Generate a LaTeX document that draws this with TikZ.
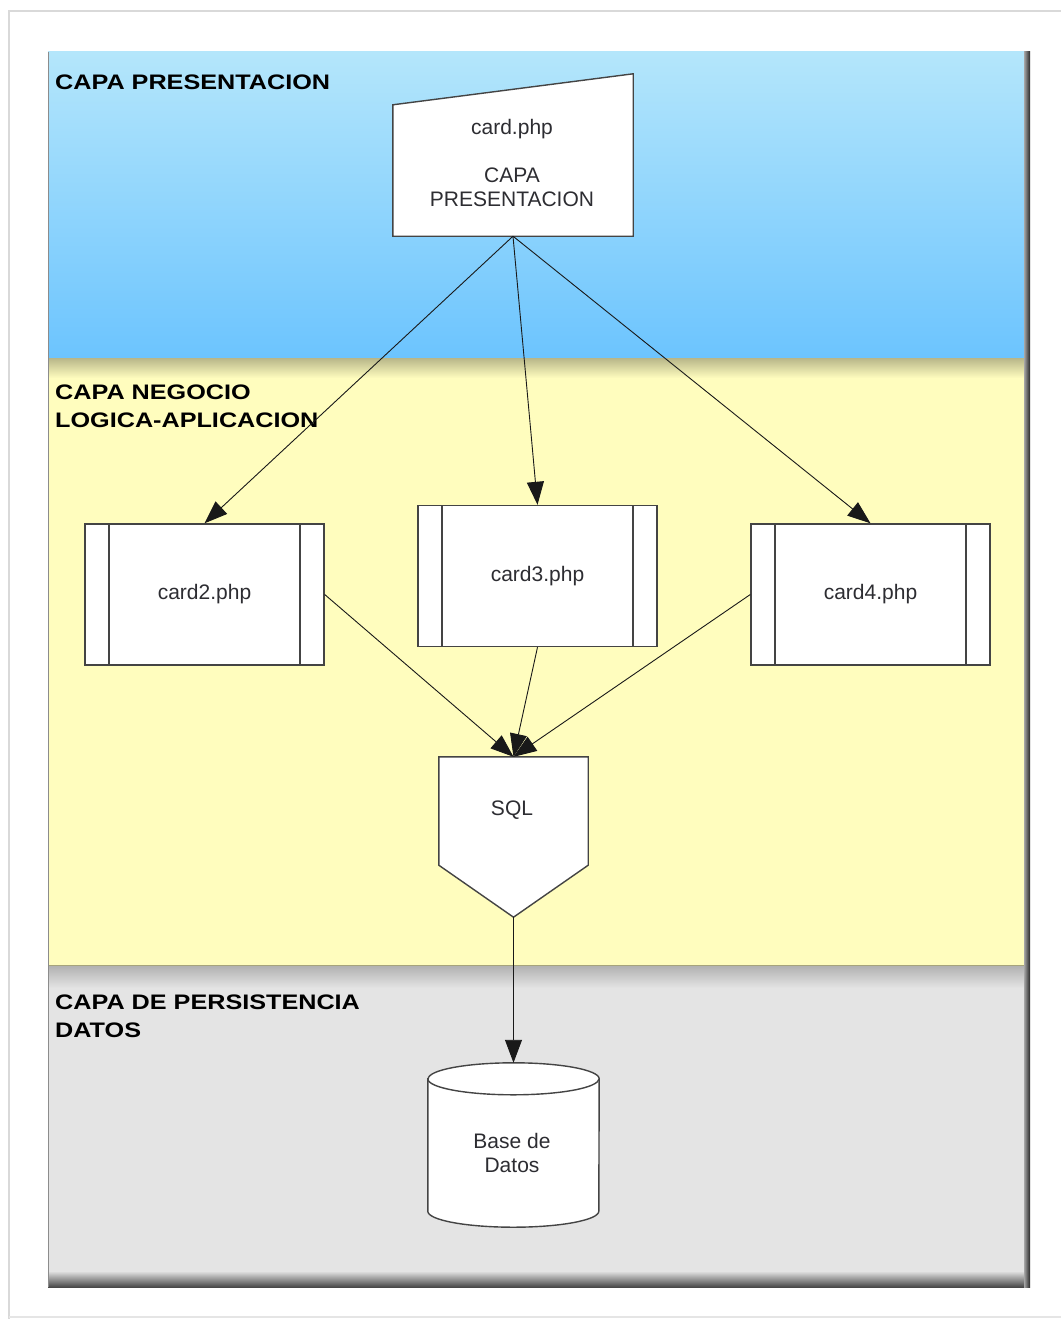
\documentclass[tikz,border=0pt]{standalone}
\usepackage{fontspec}
\setmainfont{Liberation Sans}
\newfontfamily\lblfont{Liberation Sans}[FakeStretch=1.2]
\usetikzlibrary{arrows.meta}
\definecolor{blueT}{RGB}{180,230,251}
\definecolor{blueB}{RGB}{108,196,254}
\definecolor{yelC}{RGB}{255,253,190}
\definecolor{grayC}{RGB}{228,228,228}
\definecolor{boxc}{RGB}{68,68,68}
\definecolor{txtc}{RGB}{45,45,50}
\tikzset{
  lbl/.style={font=\lblfont\bfseries\fontsize{21}{28}\selectfont, text=black, align=left, inner sep=0pt, anchor=base west},
  body/.style={font=\fontsize{21}{24}\selectfont, text=txtc, align=center, inner sep=0pt},
  boxline/.style={draw=boxc, line width=1.4pt, fill=white},
  proc/.style={boxline, font=\fontsize{21}{24}\selectfont, text=txtc, minimum width=239pt, minimum height=141pt, inner sep=0pt,
    path picture={\draw[boxc, line width=1.4pt]
      ([xshift=24pt]path picture bounding box.north west) -- ([xshift=24pt]path picture bounding box.south west)
      ([xshift=-24pt]path picture bounding box.north east) -- ([xshift=-24pt]path picture bounding box.south east);}},
  frame/.style={draw=none, inner sep=0pt},
  conn/.style={draw=black!90, line width=0.9pt, -{Triangle[length=23pt,width=17pt]}}
}
\begin{document}
\begin{tikzpicture}[x=1pt,y=1pt]
\useasboundingbox (0,0) rectangle (1060,-1319);
\fill[white] (0,0) rectangle (1060,-1319);
% page edges
\draw[black!15, line width=2pt] (9,-1319) -- (9,-11) -- (1062,-11);
\draw[black!10, line width=2pt] (9,-1317) -- (1062,-1317);
% bands
\shade[top color=blueT, bottom color=blueB] (48,-52) rectangle (1028,-358);
\fill[yelC] (48,-358) rectangle (1028,-965);
\shade[top color=black!28!yelC, bottom color=yelC] (48,-358) rectangle (1028,-378);
\fill[grayC] (48,-965) rectangle (1028,-1275);
\shade[top color=black!22!grayC, bottom color=grayC] (48,-966) rectangle (1028,-988);
\shade[top color=grayC, bottom color=black!72] (48,-1271) rectangle (1028,-1287);
\draw[black!35!yelC, line width=1pt] (48,-965) -- (1028,-965);
\shade[left color=black!35, right color=black!85] (1024,-52) rectangle (1030,-1287);
\draw[black!45, line width=0.8pt] (48,-52) -- (48,-1287);
% band labels
\node[lbl] (lp) at (55,-90) {CAPA PRESENTACION};
\node[lbl] (ln) at (55,-427) {CAPA NEGOCIO\\LOGICA-APLICACION};
\node[lbl] (ld) at (55,-1037) {CAPA DE PERSISTENCIA\\DATOS};
% manual input
\node[frame, minimum width=240pt, minimum height=162pt] (card) at (513,-155) {};
\draw[boxline] (card.south west) -- (card.south east) -- (card.north east) -- ([yshift=-31pt]card.north west) -- cycle;
\node[body] (cardtxt) at (512,-163) {card.php\\[24pt]CAPA\\PRESENTACION};
% process boxes
\node[proc] (c2) at (204.5,-594.5) {card2.php};
\node[proc] (c3) at (537.5,-576) {card3.php};
\node[proc] (c4) at (870.5,-594.5) {card4.php};
% SQL
\node[frame, minimum width=149pt, minimum height=160pt] (sql) at (513.5,-837) {};
\draw[boxline] (sql.north west) -- (sql.north east) -- ([yshift=52pt]sql.south east) -- (sql.south) -- ([yshift=52pt]sql.south west) -- cycle;
\node[body] (sqltxt) at (512,-810) {SQL};
% database
\node[frame, minimum width=171pt, minimum height=164pt] (db) at (513.5,-1145) {};
\draw[boxline] ([yshift=-16pt]db.north west) -- ([yshift=16pt]db.south west)
  arc[start angle=180, end angle=360, x radius=85.5pt, y radius=16pt]
  -- ([yshift=-16pt]db.north east)
  arc[start angle=0, end angle=180, x radius=85.5pt, y radius=16pt] -- cycle;
\draw[draw=boxc, line width=1.4pt] ([yshift=-16pt]db.north west) arc[start angle=180, end angle=360, x radius=85.5pt, y radius=16pt];
\node[body] (dbtxt) at (512,-1153) {Base de\\Datos};
% connectors
\draw[conn] (card.south) -- (c2.north);
\draw[conn] (card.south) -- (c3.north);
\draw[conn] (card.south) -- (c4.north);
\draw[conn] (c2.east) -- (sql.north);
\draw[conn] (c3.south) -- (sql.north);
\draw[conn] (c4.west) -- (sql.north);
\draw[conn] (sql.south) -- (db.north);
\end{tikzpicture}
\end{document}
